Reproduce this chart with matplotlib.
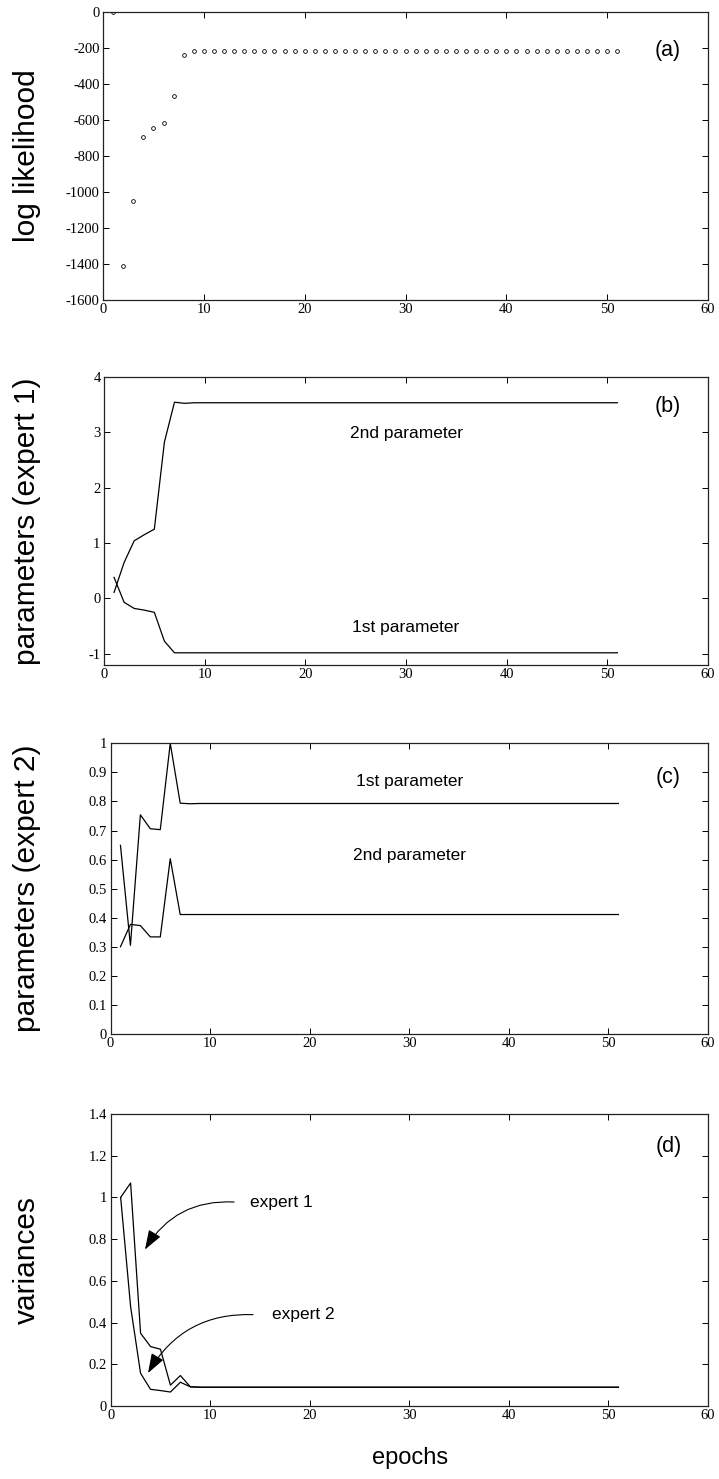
import matplotlib
matplotlib.use("Agg")
import matplotlib.pyplot as plt

# ---------------- data ----------------
epochs = list(range(1, 52))

loglik = [-3, -1410, -1048, -695, -645, -620, -468, -243] + [-218] * 43

e1_param2 = [0.11, 0.65, 1.04, 1.15, 1.25, 2.82, 3.54, 3.52] + [3.53] * 43
e1_param1 = [0.38, -0.07, -0.18, -0.21, -0.25, -0.77, -0.98] + [-0.98] * 44

e2_param1 = [0.649, 0.305, 0.754, 0.706, 0.703, 1.0, 0.794, 0.792] + [0.793] * 43
e2_param2 = [0.300, 0.377, 0.373, 0.334, 0.334, 0.603, 0.411] + [0.411] * 44

var_e1 = [1.0, 1.069, 0.349, 0.285, 0.272, 0.100, 0.146, 0.092] + [0.09] * 43
var_e2 = [1.0, 0.476, 0.157, 0.080, 0.074, 0.067, 0.114, 0.092] + [0.09] * 43

xticks = [0, 10, 20, 30, 40, 50, 60]
yticks_a = [0, -200, -400, -600, -800, -1000, -1200, -1400, -1600]
yticks_b = [-1, 0, 1, 2, 3, 4]
yticks_c = [0, 0.1, 0.2, 0.3, 0.4, 0.5, 0.6, 0.7, 0.8, 0.9, 1]
yticks_d = [0, 0.2, 0.4, 0.6, 0.8, 1, 1.2, 1.4]

# ---------------- style ----------------
plt.rcParams['axes.unicode_minus'] = False
SANS = ['Liberation Sans', 'DejaVu Sans']
SERIF = ['Liberation Serif', 'DejaVu Serif']

W, H = 719, 1479
fig = plt.figure(figsize=(W / 100, H / 100), dpi=100)


def make_axes(left_px, right_px, top_px, bottom_px):
    return fig.add_axes([left_px / W, 1 - bottom_px / H,
                         (right_px - left_px) / W, (bottom_px - top_px) / H])


def fmt(v):
    if float(v).is_integer():
        return str(int(v))
    return ('%g' % v)


def style(ax, yticks, ylim, ylabel, panel, left_px, right_px=708):
    ax.set_xlim(0, 60)
    ax.set_ylim(*ylim)
    ax.set_xticks(xticks)
    ax.set_xticklabels([fmt(t) for t in xticks], fontfamily=SERIF, fontsize=10.5)
    ax.set_yticks(yticks)
    ax.set_yticklabels([fmt(t) for t in yticks], fontfamily=SERIF, fontsize=10.5)
    ax.tick_params(direction='in', length=4, width=0.7, top=True, right=True,
                   pad=2.5)
    for s in ax.spines.values():
        s.set_linewidth(0.9)
        s.set_color('#222222')
    ax.set_ylabel(ylabel, fontfamily=SANS, fontsize=21.5)
    # right edge of the rotated label near x = 41 px
    ax.yaxis.set_label_coords((41 - left_px) / (right_px - left_px), 0.5)
    ax.text(0.934, panel[1], panel[0], transform=ax.transAxes,
            fontfamily=SANS, fontsize=15.5, ha='center', va='center')


# (a)
ax_a = make_axes(103, 708, 11.7, 300)
ax_a.plot(epochs, loglik, linestyle='none', marker='o', markersize=2.7,
          markerfacecolor='none', markeredgecolor='k', markeredgewidth=0.6)
style(ax_a, yticks_a, (-1600, 0), 'log likelihood', ('(a)', 0.865), 103)

# (b)
ax_b = make_axes(104, 708, 376.7, 665)
ax_b.plot(epochs, e1_param2, color='k', lw=0.9)
ax_b.plot(epochs, e1_param1, color='k', lw=0.9)
style(ax_b, yticks_b, (-1.2, 4), 'parameters (expert 1)', ('(b)', 0.895), 104)
ax_b.text(30, 2.97, '2nd parameter', fontfamily=SANS, fontsize=12.5,
          ha='center', va='center')
ax_b.text(30, -0.53, '1st parameter', fontfamily=SANS, fontsize=12.5,
          ha='center', va='center')

# (c)
ax_c = make_axes(110.5, 708, 743.3, 1034)
ax_c.plot(epochs, e2_param1, color='k', lw=0.9)
ax_c.plot(epochs, e2_param2, color='k', lw=0.9)
style(ax_c, yticks_c, (0, 1), 'parameters (expert 2)', ('(c)', 0.881), 110.5)
ax_c.text(30, 0.867, '1st parameter', fontfamily=SANS, fontsize=12.5,
          ha='center', va='center')
ax_c.text(30, 0.613, '2nd parameter', fontfamily=SANS, fontsize=12.5,
          ha='center', va='center')

# (d)
ax_d = make_axes(110.7, 708, 1114, 1406)
ax_d.plot(epochs, var_e1, color='k', lw=0.9)
ax_d.plot(epochs, var_e2, color='k', lw=0.9)
style(ax_d, yticks_d, (0, 1.4), 'variances', ('(d)', 0.887), 110.7)
arrow_kw = dict(arrowstyle='-|>,head_length=1.2,head_width=0.42',
                color='k', lw=0.8, connectionstyle='arc3,rad=0.3',
                shrinkA=0, shrinkB=0)
ax_d.annotate('', xy=(3.44, 0.75), xytext=(12.4, 0.978), arrowprops=arrow_kw)
ax_d.annotate('', xy=(3.75, 0.158), xytext=(14.3, 0.438), arrowprops=arrow_kw)
ax_d.text(14.0, 0.978, 'expert 1', fontfamily=SANS, fontsize=12.5,
          ha='left', va='center')
ax_d.text(16.2, 0.438, 'expert 2', fontfamily=SANS, fontsize=12.5,
          ha='left', va='center')

fig.text(410 / W, 1 - 1458 / H, 'epochs', fontfamily=SANS, fontsize=17,
         ha='center', va='center')

fig.savefig('out.png', dpi=100)
